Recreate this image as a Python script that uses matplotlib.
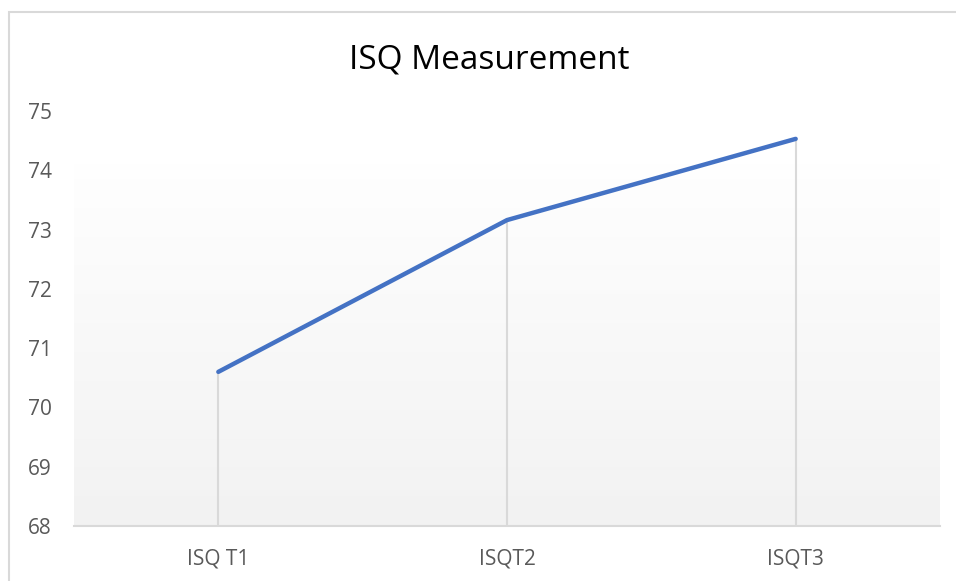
import numpy as np
import matplotlib
matplotlib.use("Agg")
import matplotlib.pyplot as plt
from matplotlib.patches import Rectangle

# data
categories = ["ISQ T1", "ISQT2", "ISQT3"]
isq_values = [70.6, 73.16, 74.53]
y_ticks = [68, 69, 70, 71, 72, 73, 74, 75]

plt.rcParams['font.family'] = ['Open Sans', 'DejaVu Sans']

fig = plt.figure(figsize=(9.56, 5.81), dpi=100)
ax = fig.add_axes([74 / 956, 55 / 581, 866 / 956, 415 / 581])

x = np.arange(len(categories))
ax.set_xlim(-0.5, len(categories) - 0.5)
ax.set_ylim(68, 75)

# gradient fill of the plot area, white at top to light gray at bottom
grad = np.linspace(0.998, 0.949, 256).reshape(-1, 1)
ax.imshow(np.dstack([grad, grad, grad]), extent=(-0.5, len(categories) - 0.5, 68, 74.09),
          aspect='auto', zorder=0, interpolation='bilinear')

# drop lines
ax.vlines(x, 68, isq_values, colors='#d9d9d9', linewidth=1.5, zorder=1)
ax.plot(x, isq_values, color='#4472C4', linewidth=3.2, solid_capstyle='round', zorder=3)

for side in ['top', 'right', 'left']:
    ax.spines[side].set_visible(False)
ax.spines['bottom'].set_color('#d9d9d9')
ax.spines['bottom'].set_linewidth(1.5)

ax.set_xticks(x)
ax.set_xticklabels(categories)
ax.set_yticks(y_ticks)
ax.tick_params(axis='both', length=0, labelsize=15, labelcolor='#595959')
ax.tick_params(axis='x', pad=16)
ax.tick_params(axis='y', pad=16)

fig.text(489 / 956, 1 - 68 / 581, "ISQ Measurement", ha='center', va='baseline',
         fontsize=24, color='#000000')

# chart border
fig.patches.append(Rectangle((9 / 956, -0.1), 1.2, 1 - 12.5 / 581 + 0.1,
                             transform=fig.transFigure, fill=False,
                             edgecolor='#d9d9d9', linewidth=1.5))

fig.savefig("out.png", dpi=100)
